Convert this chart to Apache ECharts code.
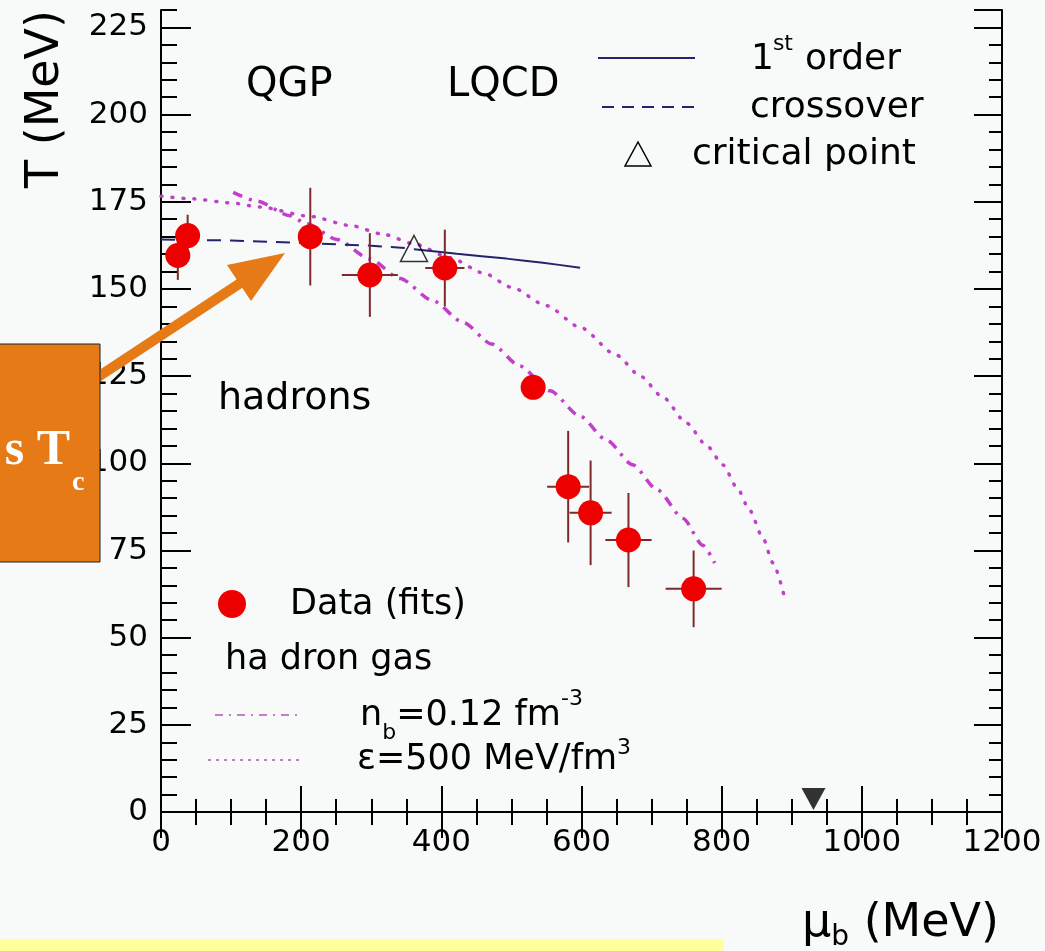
<!DOCTYPE html>
<html><head><meta charset="utf-8">
<script src="https://cdn.jsdelivr.net/npm/echarts@6/dist/echarts.min.js"></script>
<style>html,body{margin:0;padding:0;background:#f7faf8;overflow:hidden}#c{width:1045px;height:951px}</style>
</head><body><div id="c"></div>
<script>
// ---- data ----
const xTickLabels = ['0','200','400','600','800','1000','1200'];
const yTickLabels = ['0','25','50','75','100','125','150','175','200','225'];
const dataMu   = [24, 38, 213, 298, 405, 531, 581, 613, 667, 760];
const dataT    = [159.6, 165.3, 165, 154, 156, 121.8, 93.3, 85.8, 78, 64];
const dataErrT = [7, 6, 14, 12, 11, 0, 16, 15, 13.5, 11];
const dataErrMu= [0, 0, 0, 40, 28, 0, 30, 30, 33, 40];
const crossoverMu = [0, 100, 200, 300, 361];
const crossoverT  = [164.2, 163.9, 163.2, 162.4, 161.6];
const firstOrderMu = [361, 422, 493, 545, 598];
const firstOrderT  = [161.4, 160.1, 158.7, 157.5, 156.1];
const criticalMu = [361];
const criticalT  = [161.6];
const epsMu = [0, 41, 100, 141, 213, 270, 317, 360, 412, 460, 500, 550, 598, 650, 684, 716, 750, 779, 802, 822, 840, 859, 873, 890];
const epsT  = [176.6, 175.9, 174.7, 173.5, 170.8, 168.2, 165.7, 163.0, 159.0, 154.6, 150.5, 145.2, 139.0, 131.0, 125.0, 119.0, 111.5, 105.0, 99.5, 93.0, 86.5, 78.5, 71.5, 61.3];
const nbMu = [103, 137, 184, 208, 251, 298, 341, 388, 431, 472, 512, 555, 598, 636, 673, 708, 745, 773, 790];
const nbT  = [177.7, 175.2, 171.0, 168.7, 164.2, 158.6, 153.0, 146.6, 140.4, 134.2, 127.9, 120.8, 113.5, 106.6, 99.6, 92.4, 84.2, 76.5, 71.4];
const nuclearMu = [931];
const nuclearT  = [3.7];

const FONT = '"DejaVu Sans", sans-serif';
const MAG = '#c23fcb';
const NAVY = '#23236e';
const ORANGE = '#e57a17';

const ctx2 = document.createElement('canvas').getContext('2d');
function tw(t, size, fam){ ctx2.font = size + 'px ' + (fam||FONT); return ctx2.measureText(t).width; }
function txt(x, baseline, t, size, extra){
  extra = extra || {};
  const fam = extra.fam || FONT;
  return Object.assign({
    type:'text', x:x, y: baseline - 0.346*size, z:200,
    style:{text:t, fill: extra.fill||'#000', fontSize:size, fontFamily:fam, fontWeight: extra.weight||'normal',
      align: extra.align||'left', verticalAlign:'middle'}
  }, extra.el||{});
}
function seq(x, baseline, parts){
  const out=[]; let cx=x;
  parts.forEach(p=>{ out.push(txt(cx + (p.dx||0), baseline + (p.dy||0), p.t, p.s)); cx += (p.dx||0) + tw(p.t, p.s); });
  return out;
}
function line(x1,y1,x2,y2,stroke,w,dash){
  return {type:'line', z:200, shape:{x1,y1,x2,y2}, style:{stroke, lineWidth:w, lineDash:dash||null}};
}

const graphics = [];
graphics.push(txt(246, 99, 'QGP', 40));
graphics.push(txt(447, 99, 'LQCD', 40));
graphics.push(txt(218, 412, 'hadrons', 38));
// top-right legend
graphics.push(line(598, 58, 695, 58, NAVY, 2));
graphics.push(...seq(751, 72, [{t:'1', s:36}, {t:'st', s:22, dy:-20, dx:-1}, {t:'order', s:36, dx:12}]));
graphics.push(line(602, 107, 695, 107, NAVY, 2, [12, 8]));
graphics.push(txt(750, 120, 'crossover', 36));
graphics.push({type:'polygon', z:200, shape:{points:[[638,142],[625,166],[651,166]]}, style:{fill:'none', stroke:'#000', lineWidth:1.5}});
graphics.push(txt(692, 167, 'critical point', 36));
// bottom-left legend
graphics.push({type:'circle', z:200, shape:{cx:232, cy:604, r:14}, style:{fill:'#ee0000'}});
graphics.push(txt(290, 617, 'Data (fits)', 35));
graphics.push(txt(225, 672, 'ha dron gas', 35));
graphics.push(line(215, 715, 302, 715, '#c47ccc', 2, [8, 6, 2, 6]));
graphics.push(...seq(360, 728, [{t:'n', s:35}, {t:'b', s:22, dy:13}, {t:'=0.12 fm', s:35}, {t:'-3', s:22, dy:-21}]));
graphics.push(line(208, 760, 302, 760, '#c47ccc', 2, [3, 5]));
graphics.push(...seq(357, 772, [{t:'\u03b5=500 MeV/fm', s:35}, {t:'3', s:22, dy:-16}]));
// axis titles
graphics.push({type:'text', x:46, y:99, rotation:Math.PI/2, z:200,
  style:{text:'T (MeV)', fill:'#000', fontSize:46, fontFamily:FONT, align:'center', verticalAlign:'middle'}});
graphics.push(...seq(802, 940, [{t:'\u03bc', s:46}, {t:'b', s:28, dy:7}, {t:' (MeV)', s:46}]));
// orange arrow + box
graphics.push({type:'line', z:300, shape:{x1:60, y1:402, x2:245, y2:280}, style:{stroke:ORANGE, lineWidth:10}});
graphics.push({type:'polygon', z:300, shape:{points:[[285,253],[227,265],[251,301]]}, style:{fill:ORANGE}});
graphics.push({type:'rect', z:310, shape:{x:-2, y:344, width:102, height:218}, style:{fill:ORANGE, stroke:'#222', lineWidth:1}});
graphics.push(txt(70, 468, 's T', 50, {fam:'"Liberation Serif", serif', weight:'bold', fill:'#fff', align:'right', el:{z:320}}));
graphics.push(txt(72, 492, 'c', 28, {fam:'"Liberation Serif", serif', weight:'bold', fill:'#fff', el:{z:320}}));
// yellow strip
graphics.push({type:'rect', z:300, shape:{x:0, y:939, width:724, height:14}, style:{fill:'#ffff9c'}});

const axLine = {show:true, lineStyle:{color:'#000', width:2}};
const lab = {color:'#000', fontSize:31, fontFamily:FONT};
function xAx(pos, showLab){
  return {type:'value', position:pos, min:0, max:1200, interval:200, gridIndex:0,
    axisLine:axLine, splitLine:{show:false},
    axisTick:{show:true, inside:true, length:26, lineStyle:{color:'#000', width:2}},
    minorTick:{show:true, splitNumber:4, length:13, lineStyle:{color:'#000', width:2}},
    axisLabel:{show:showLab, margin:15, ...lab, formatter:(v)=>xTickLabels[Math.round(v/200)] ?? String(v)}};
}
function yAx(pos, interval, len, showLab, showLine){
  return {type:'value', position:pos, min:0, max:230, interval:interval, gridIndex:0,
    axisLine: showLine ? axLine : {show:false}, splitLine:{show:false},
    axisTick:{show:true, inside:true, length:len, lineStyle:{color:'#000', width:2}},
    axisLabel:{show:showLab, margin:13, showMaxLabel:false, ...lab, formatter:(v)=>yTickLabels[Math.round(v/25)] ?? ''}};
}

const chart = echarts.init(document.getElementById('c'), null, {renderer:'canvas'});
chart.setOption({
  backgroundColor:'#f7faf8',
  animation:false,
  grid:{left:161, top:10, width:841, height:802, outerBoundsMode:'none', containLabel:false},
  xAxis:[xAx('bottom', true), xAx('top', false)],
  yAxis:[yAx('left',25,30,true,true), yAx('left',5,16,false,false), yAx('right',25,28,false,true), yAx('right',5,13,false,false)],
  graphic: graphics,
  series:[
    {type:'line', name:'eps', data:epsMu.map((m,i)=>[m,epsT[i]]), showSymbol:false, smooth:0.25, smoothMonotone:'x',
      lineStyle:{color:MAG, width:3.5, type:[1,10], cap:'round'}, z:3},
    {type:'line', name:'nb', data:nbMu.map((m,i)=>[m,nbT[i]]), showSymbol:false, smooth:0.25, smoothMonotone:'x',
      lineStyle:{color:MAG, width:3.5, type:[10,7,3,7]}, z:3},
    {type:'line', name:'crossover', data:crossoverMu.map((m,i)=>[m,crossoverT[i]]), showSymbol:false,
      lineStyle:{color:NAVY, width:2, type:[14,9]}, z:4},
    {type:'line', name:'1st order', data:firstOrderMu.map((m,i)=>[m,firstOrderT[i]]), showSymbol:false, smooth:0.3,
      lineStyle:{color:NAVY, width:2}, z:4},
    {type:'custom', name:'errors', z:5,
      data:dataMu.map((m,i)=>[m,dataT[i],dataErrT[i],dataErrMu[i]]),
      renderItem:(params, api)=>{
        const x=api.value(0), y=api.value(1), ey=api.value(2), ex=api.value(3);
        const ch=[]; const st={stroke:'#7e2a2a', lineWidth:2};
        if(ey>0){ const a=api.coord([x,y-ey]), b=api.coord([x,y+ey]); ch.push({type:'line', shape:{x1:a[0],y1:a[1],x2:b[0],y2:b[1]}, style:st}); }
        if(ex>0){ const a=api.coord([x-ex,y]), b=api.coord([x+ex,y]); ch.push({type:'line', shape:{x1:a[0],y1:a[1],x2:b[0],y2:b[1]}, style:st}); }
        return {type:'group', children:ch};
      }},
    {type:'scatter', name:'Data (fits)', data:dataMu.map((m,i)=>[m,dataT[i]]), symbol:'circle', symbolSize:25,
      itemStyle:{color:'#ee0000', opacity:1}, z:6},
    {type:'scatter', name:'critical point', data:criticalMu.map((m,i)=>[m,criticalT[i]]), symbol:'triangle', symbolSize:[27,26],
      itemStyle:{color:'rgba(0,0,0,0)', borderColor:'#000', borderWidth:1.5}, z:7},
    {type:'scatter', name:'nuclear', data:nuclearMu.map((m,i)=>[m,nuclearT[i]]), symbol:'triangle', symbolRotate:180, symbolSize:[24,22],
      itemStyle:{color:'#000'}, z:7}
  ]
});
</script></body></html>
